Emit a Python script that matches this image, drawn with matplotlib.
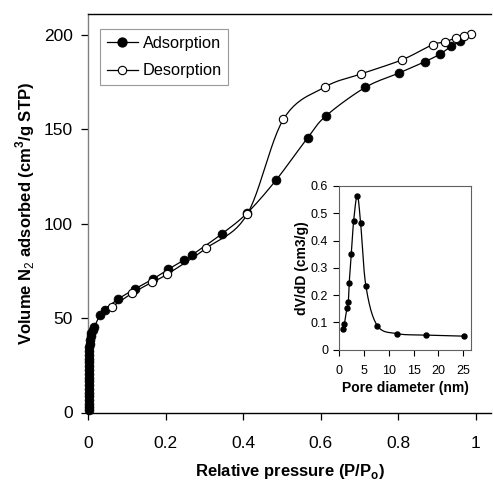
import numpy as np
import matplotlib
matplotlib.use("Agg")
import matplotlib.pyplot as plt

plt.rcParams['font.family'] = ['Liberation Sans', 'DejaVu Sans']
plt.rcParams['mathtext.fontset'] = 'custom'
plt.rcParams['mathtext.rm'] = 'Liberation Sans'
plt.rcParams['mathtext.bf'] = 'Liberation Sans:bold'

# Adsorption branch (P/P0, volume)
ads_x = [0.003, 0.003, 0.003, 0.003, 0.003, 0.003, 0.003, 0.003, 0.003, 0.003,
         0.003, 0.003, 0.003, 0.003, 0.003, 0.003, 0.003, 0.003, 0.004, 0.005,
         0.006, 0.008, 0.011, 0.015, 0.030, 0.043, 0.077, 0.120, 0.166, 0.207,
         0.248, 0.268, 0.344, 0.410, 0.485, 0.567, 0.614, 0.715, 0.802, 0.870,
         0.907, 0.937, 0.961]
ads_y = [1.5, 3.0, 4.5, 6.5, 8.5, 10.5, 12.5, 14.5, 16.5, 18.5,
         20.5, 22.5, 24.5, 26.5, 28.5, 30.5, 32.5, 34.5, 36.5, 38.5,
         40.5, 42.0, 43.5, 45.0, 51.5, 54.5, 60.0, 65.3, 70.5, 75.8,
         80.8, 83.4, 94.4, 105.5, 123.0, 145.5, 157.0, 172.0, 179.6, 185.7,
         189.5, 193.7, 196.5]

# Desorption branch
des_x = [0.988, 0.969, 0.949, 0.920, 0.889, 0.810, 0.705, 0.611, 0.504,
         0.410, 0.305, 0.204, 0.165, 0.114, 0.062]
des_y = [200.4, 199.0, 198.2, 196.0, 194.6, 186.6, 179.2, 172.2, 155.2,
         104.8, 87.0, 73.2, 69.0, 63.2, 56.0]

# Pore size distribution (inset)
pore_d = [0.68, 1.0, 1.55, 1.82, 2.0, 2.42, 2.9, 3.63, 4.3, 5.38, 7.66, 11.7, 17.5, 25.1]
pore_v = [0.076, 0.092, 0.152, 0.174, 0.244, 0.350, 0.472, 0.565, 0.466, 0.232,
          0.088, 0.058, 0.053, 0.049]

x_ticks = [0, 0.2, 0.4, 0.6, 0.8, 1]
x_ticklabels = ['0', '0.2', '0.4', '0.6', '0.8', '1']
y_ticks = [0, 50, 100, 150, 200]
in_x_ticks = [0, 5, 10, 15, 20, 25]
in_y_ticks = [0, 0.1, 0.2, 0.3, 0.4, 0.5, 0.6]
in_y_ticklabels = ['0', '0.1', '0.2', '0.3', '0.4', '0.5', '0.6']


def smooth(x, y, n=12):
    """Catmull-Rom curve through the points (line only)."""
    x = np.asarray(x, float)
    y = np.asarray(y, float)
    px = np.concatenate([[2 * x[0] - x[1]], x, [2 * x[-1] - x[-2]]])
    py = np.concatenate([[2 * y[0] - y[1]], y, [2 * y[-1] - y[-2]]])
    xs, ys = [], []
    t = np.linspace(0, 1, n, endpoint=False)
    for i in range(1, len(px) - 2):
        p0x, p1x, p2x, p3x = px[i - 1:i + 3]
        p0y, p1y, p2y, p3y = py[i - 1:i + 3]
        for (p0, p1, p2, p3, out) in ((p0x, p1x, p2x, p3x, xs), (p0y, p1y, p2y, p3y, ys)):
            out.extend(0.5 * ((2 * p1) + (-p0 + p2) * t + (2 * p0 - 5 * p1 + 4 * p2 - p3) * t ** 2
                              + (-p0 + 3 * p1 - 3 * p2 + p3) * t ** 3))
    xs.append(x[-1])
    ys.append(y[-1])
    return np.array(xs), np.array(ys)


fig = plt.figure(figsize=(4.93, 4.80), dpi=100)
ax = fig.add_axes([88.3 / 493, 1 - 412.5 / 480, (491 - 88.3) / 493, (412.5 - 14.3) / 480])

sx, sy = smooth(ads_x, ads_y)
ax.plot(sx, sy, color='black', lw=0.9, zorder=2)
sx, sy = smooth(des_x, des_y)
ax.plot(sx, sy, color='black', lw=0.9, zorder=2)
ax.plot(ads_x, ads_y, 'o', color='black', ms=6.4, mew=0.5, zorder=3, clip_on=False)
ax.plot(des_x, des_y, 'o', mfc='white', mec='black', ms=6.0, mew=0.8, zorder=4)

# legend proxies
h1, = ax.plot([], [], '-o', color='black', ms=6.4, lw=0.9, label='Adsorption')
h2, = ax.plot([], [], '-o', color='black', mfc='white', ms=6.0, mew=0.8, lw=0.9, label='Desorption')
leg = ax.legend(handles=[h1, h2], loc='upper left', bbox_to_anchor=(0.029, 0.962),
                borderaxespad=0, fontsize=11.8, frameon=True, fancybox=False,
                handlelength=1.9, handletextpad=0.3, borderpad=0.4, labelspacing=0.75)
leg.get_frame().set_edgecolor('#808080')
leg.get_frame().set_linewidth(0.8)

ax.set_xlim(0, 1.04)
ax.set_ylim(0, 210.7)
ax.set_xticks(x_ticks)
ax.set_xticklabels(x_ticklabels)
ax.set_yticks(y_ticks)
ax.spines['right'].set_visible(False)
ax.spines['left'].set_color('#808080')
ax.spines['left'].set_linewidth(1.0)
ax.spines['bottom'].set_linewidth(1.0)
ax.spines['top'].set_linewidth(1.0)
ax.tick_params(axis='both', direction='out', length=5, width=0.9, labelsize=12.5, pad=6)
ax.tick_params(axis='x', pad=12)
ax.set_xlabel(r'Relative pressure (P/P$_\mathbf{o}$)', fontsize=12, fontweight='bold', labelpad=8)
ax.set_ylabel(r'Volume N$_\mathrm{2}$ adsorbed (cm$^\mathbf{3}$/g STP)', fontsize=12, fontweight='bold', labelpad=5)

# inset
ia = fig.add_axes([339.3 / 493, 1 - 349.5 / 480, (471 - 339.3) / 493, (349.5 - 186) / 480])
sx, sy = smooth(pore_d, pore_v, n=20)
ia.plot(sx, sy, color='black', lw=0.9)
ia.plot(pore_d, pore_v, 'o', color='black', ms=3.6)
ia.set_xlim(0, 26.6)
ia.set_ylim(0, 0.6)
ia.set_xticks(in_x_ticks)
ia.set_yticks(in_y_ticks)
ia.set_yticklabels(in_y_ticklabels)
for s in ia.spines.values():
    s.set_linewidth(0.8)
    s.set_color('#606060')
ia.tick_params(axis='both', direction='out', length=4, width=0.8, labelsize=9, pad=4)
ia.tick_params(axis='x', pad=7)
ia.set_xlabel('Pore diameter (nm)', fontsize=10, fontweight='bold', labelpad=3)
ia.set_ylabel('dV/dD (cm3/g)', fontsize=10, fontweight='bold', labelpad=1)

fig.savefig('out.png', dpi=100)
